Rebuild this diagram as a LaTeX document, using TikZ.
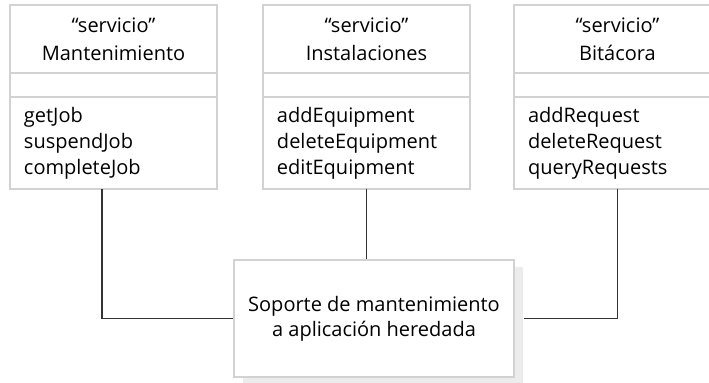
\documentclass[tikz,border=0pt]{standalone}
\usepackage{fontspec}
\setmainfont{Open Sans}
\usepackage{tikz}
\usetikzlibrary{positioning, shadows}

\begin{document}
\begin{tikzpicture}[
        node distance=23pt,
        head/.style={rectangle, draw=gray!35, fill=white, line width=1.2pt, outer sep=0pt, minimum width=103.5pt, minimum height=34pt, align=center, font=\fontsize{10}{14}\selectfont},
        attr/.style={head, minimum height=12pt},
        oper/.style={head, minimum height=46pt, inner xsep=7pt, text width=89.5pt, align=left, font=\fontsize{10}{13}\selectfont},
        legacy/.style={rectangle, draw=gray!35, fill=white, line width=1.2pt, minimum width=140pt, minimum height=58.5pt, align=center, font=\fontsize{10}{12.5}\selectfont, drop shadow={shadow xshift=4.5pt, shadow yshift=-3.5pt, fill=gray!15, opacity=1}},
        link/.style={draw=black!80, line width=0.7pt}
    ]
        \useasboundingbox (0,0) rectangle (354.5pt,-191pt);
        \node[head] (mantT) at (56.75pt,-19.5pt) {“servicio”\\Mantenimiento};
        \node[attr, below=0pt of mantT] (mantA) {};
        \node[oper, below=0pt of mantA] (mantO) {getJob\\suspendJob\\completeJob};
        \node[head, right=of mantT] (instT) {“servicio”\\Instalaciones};
        \node[attr, below=0pt of instT] (instA) {};
        \node[oper, below=0pt of instA] (instO) {addEquipment\\deleteEquipment\\editEquipment};
        \node[head, right=22pt of instT] (bitT) {“servicio”\\Bitácora};
        \node[attr, below=0pt of bitT] (bitA) {};
        \node[oper, below=0pt of bitA] (bitO) {addRequest\\deleteRequest\\queryRequests};
        \node[legacy] (sop) at (187pt,-159.25pt) {Soporte de mantenimiento\\a aplicación heredada};
        \draw[link] ([xshift=-5.75pt]mantO.south) |- (sop.west);
        \draw[link] (instO.south) -- (instO.south |- sop.north);
        \draw[link] (bitO.south) |- ([xshift=4.5pt]sop.east);
    \end{tikzpicture}
\end{document}
